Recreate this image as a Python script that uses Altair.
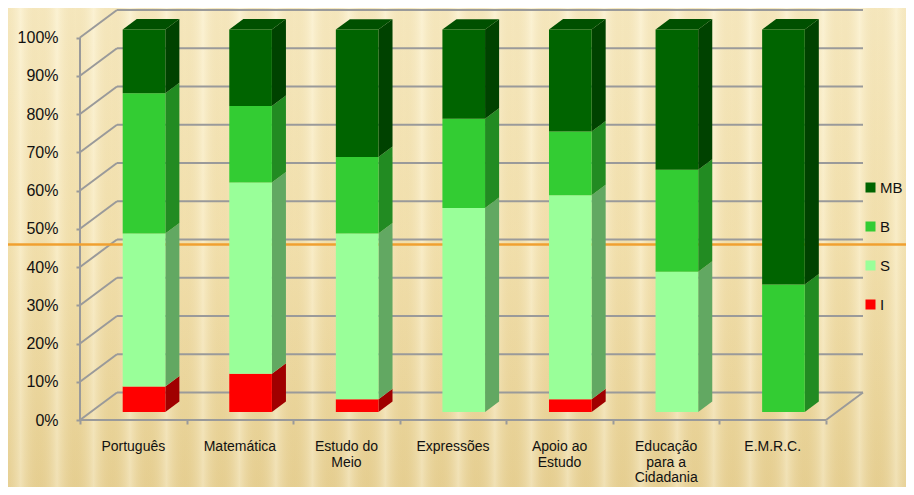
import altair as alt
import pandas as pd

# ---------------- data ----------------
subjects = ["Português", "Matemática", "Estudo do Meio", "Expressões",
            "Apoio ao Estudo", "Educação para a Cidadania", "E.M.R.C."]
subject_labels = ["Português", "Matemática", "Estudo do\nMeio", "Expressões",
                  "Apoio ao\nEstudo", "Educação\npara a\nCidadania", "E.M.R.C."]
levels = ["I", "S", "B", "MB"]          # stacked bottom -> top
legend_order = ["MB", "B", "S", "I"]
I_vals = [6.67, 10.0, 3.33, 0.0, 3.33, 0.0, 0.0]
S_vals = [40.0, 50.0, 43.33, 53.33, 53.33, 36.67, 0.0]
B_vals = [36.67, 20.0, 20.0, 23.33, 16.67, 26.67, 33.33]
MB_vals = [16.67, 20.0, 33.33, 23.33, 26.67, 36.67, 66.67]
y_ticks = [0, 10, 20, 30, 40, 50, 60, 70, 80, 90, 100]
orange_level = 45.9

# ---------------- style ----------------
front_col = {"MB": "#006400", "B": "#33CC33", "S": "#99FF99", "I": "#FF0000"}
side_col = {"MB": "#004200", "B": "#228B22", "S": "#62A862", "I": "#A00000"}
top_col = {"MB": "#005000", "B": "#2AAA2A", "S": "#80DD80", "I": "#CC0000"}
DX, DY = 0.347, 7.2       # depth of the box (x units, percent units)
F, D = 0.29, 0.38         # bar front depth fraction, bar depth fraction
BL, BR = 0.3, 0.7         # bar left/right inside category
GRID = "#9a9a9a"
FONT = "Liberation Sans"

vals = {"I": I_vals, "S": S_vals, "B": B_vals, "MB": MB_vals}

front_rows, side_rows, top_rows = [], [], []
for i, s in enumerate(subjects):
    cum = 0.0
    x0 = i + BL + F * DX
    x1 = i + BR + F * DX
    segs = []
    for lv in levels:
        v = vals[lv][i]
        if v > 0:
            segs.append((lv, cum, cum + v))
        cum += v
    for lv, lo, hi in segs:
        front_rows.append(dict(subject=s, level=lv, x0=x0, x1=x1,
                               y0=lo + F * DY, y1=hi + F * DY))
        key = f"{i}-{lv}"
        side_rows.append(dict(key=key, col=side_col[lv], x=x1,
                              ylo=lo + F * DY, yhi=hi + F * DY))
        side_rows.append(dict(key=key, col=side_col[lv], x=x1 + D * DX,
                              ylo=lo + (F + D) * DY, yhi=hi + (F + D) * DY))
    lv, lo, hi = segs[-1]
    key = f"{i}-top"
    top_rows.append(dict(key=key, col=top_col[lv], y=hi + F * DY, xa=x0, xb=x1))
    top_rows.append(dict(key=key, col=top_col[lv], y=hi + (F + D) * DY,
                         xa=x0 + D * DX, xb=x1 + D * DX))

front_df = pd.DataFrame(front_rows)
side_df = pd.DataFrame(side_rows)
top_df = pd.DataFrame(top_rows)

n = len(subjects)
grid_rows = []
for v in y_ticks:
    grid_rows.append(dict(x=0, y=v, x2=DX, y2=v + DY))
    grid_rows.append(dict(x=DX, y=v + DY, x2=n + DX, y2=v + DY))
grid_rows.append(dict(x=0, y=0, x2=n, y2=0))
grid_rows.append(dict(x=n, y=0, x2=n + DX, y2=DY))
grid_rows.append(dict(x=0, y=0, x2=0, y2=100))
grid_df = pd.DataFrame(grid_rows)

label_df = pd.DataFrame(dict(x=[i + 0.5 for i in range(n)], y=[-5.3] * n,
                             label=subject_labels))

XS = alt.Scale(domain=[0, n + DX], nice=False, zero=False)
YS = alt.Scale(domain=[0, 100 + DY], nice=False, zero=False)
XAX = alt.Axis(values=list(range(n + 1)), labels=False, tickSize=4, tickWidth=2,
               tickColor=GRID, domain=False, grid=False, title=None, zindex=1)
YAX = alt.Axis(values=y_ticks, labelExpr="datum.value + '%'", tickSize=4,
               tickWidth=2, tickColor=GRID, domain=False, grid=False, title=None,
               labelFontSize=16, labelFont=FONT, labelColor="#111111",
               labelPadding=18, zindex=1)

def X(f):
    return alt.X(f, type="quantitative", scale=XS, axis=XAX)

def Y(f):
    return alt.Y(f, type="quantitative", scale=YS, axis=YAX)

# background
bg_df = pd.DataFrame(dict(x=[-0.9], x2=[n + 1.0], y=[-22.0], y2=[114.0]))
stripe_stops = []
k = 52
for j in range(k + 1):
    off = j / k
    c = "rgba(255,250,230,0.40)" if j % 2 == 0 else "rgba(215,185,110,0.10)"
    stripe_stops.append(alt.GradientStop(offset=off, color=c))

bg = alt.Chart(bg_df).mark_rect(
    color=alt.LinearGradient(gradient="linear", x1=0, y1=0, x2=0, y2=1,
                             stops=[alt.GradientStop(offset=0, color="#F9EDC8"),
                                    alt.GradientStop(offset=0.5, color="#F4E3B2"),
                                    alt.GradientStop(offset=1, color="#E6CF92")])
).encode(x=X("x"), x2="x2", y=Y("y"), y2="y2")

stripes = alt.Chart(bg_df).mark_rect(
    color=alt.LinearGradient(gradient="linear", x1=0, y1=0, x2=1, y2=0,
                             stops=stripe_stops)
).encode(x=X("x"), x2="x2", y=Y("y"), y2="y2")

grid = alt.Chart(grid_df).mark_rule(color=GRID, strokeWidth=2).encode(
    x=X("x"), y=Y("y"), x2="x2", y2="y2")

orange = alt.Chart(pd.DataFrame(dict(x=[-0.9], x2=[n + 1.0], y=[orange_level]))).mark_rule(
    color="#F0A030", strokeWidth=2.5).encode(x=X("x"), x2="x2", y=Y("y"))

front = alt.Chart(front_df).mark_rect().encode(
    x=X("x0"), x2="x1", y=Y("y0"), y2="y1",
    color=alt.Color("level:N",
                    scale=alt.Scale(domain=legend_order,
                                    range=[front_col[l] for l in legend_order]),
                    legend=alt.Legend(orient="none", legendX=783, legendY=170,
                                      title=None, symbolType="square",
                                      symbolSize=100, symbolStrokeWidth=0,
                                      labelFontSize=15, labelFont=FONT,
                                      labelColor="#111111", rowPadding=23,
                                      labelOffset=2, padding=0, labelLimit=60)),
)

sides = alt.Chart(side_df).mark_area(orient="vertical").encode(
    x=X("x"), y=Y("ylo"), y2="yhi", detail="key:N",
    fill=alt.Fill("col:N", scale=None))

tops = alt.Chart(top_df).mark_area(orient="horizontal").encode(
    y=Y("y"), x=X("xa"), x2="xb", detail="key:N",
    fill=alt.Fill("col:N", scale=None))

labels = alt.Chart(label_df).mark_text(
    baseline="top", align="center", lineBreak="\n", fontSize=14, font=FONT,
    lineHeight=15.5, color="#111111").encode(x=X("x"), y=Y("y"), text="label:N")

chart = alt.layer(bg, stripes, grid, orange, sides, tops, front, labels).properties(
    width=783, height=410,
    autosize=alt.AutoSizeParams(type="none"),
    padding={"left": 72, "top": 2, "right": 43, "bottom": 67},
).configure(background="#F0DDA8").configure_view(stroke=None)

chart.save("out.html", embed_options={"renderer": "svg", "actions": False})
